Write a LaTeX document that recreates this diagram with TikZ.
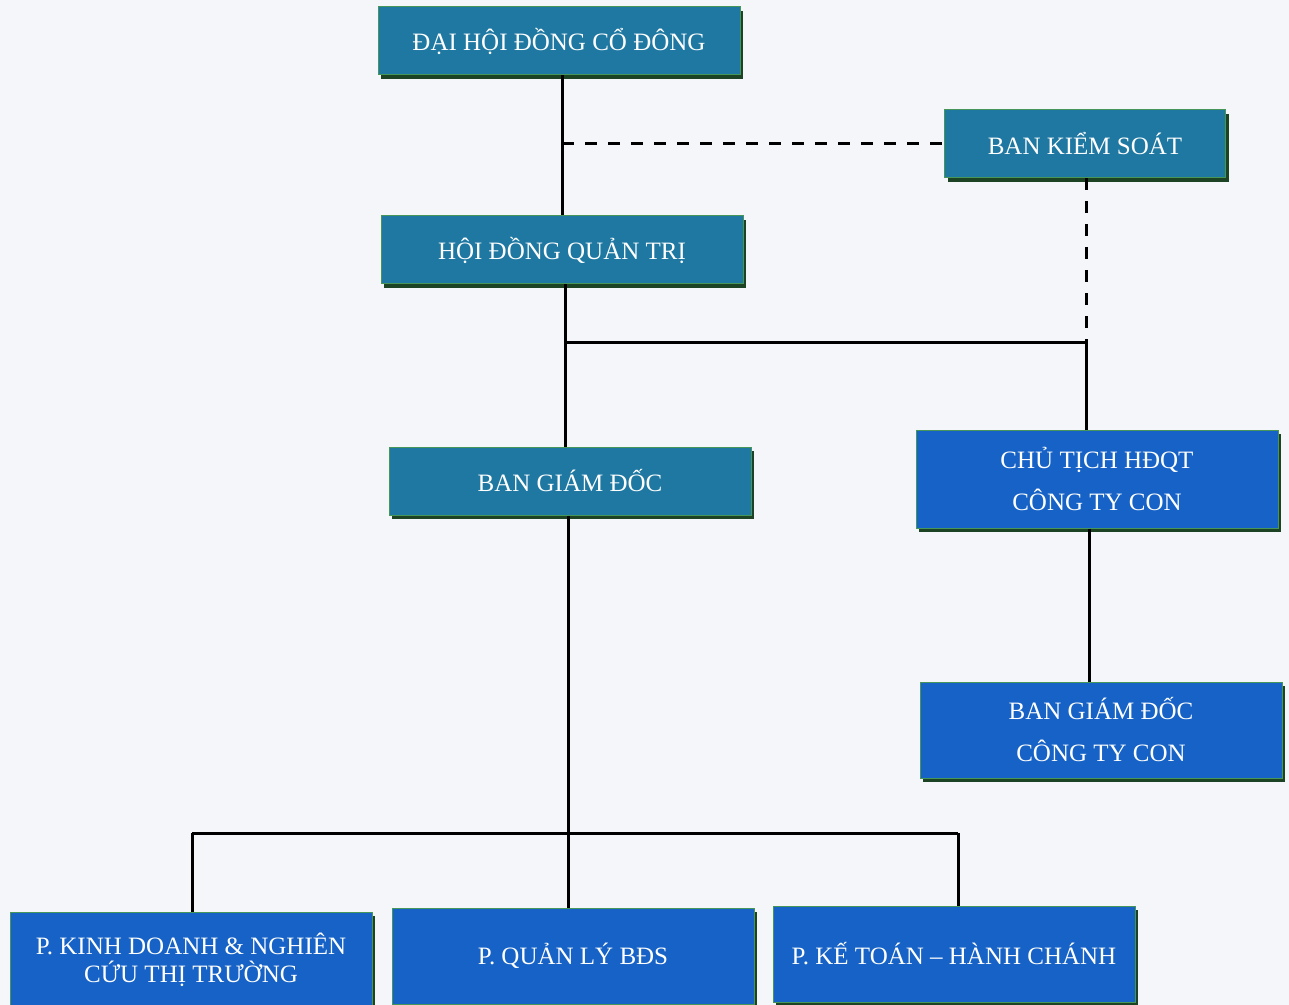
\documentclass[tikz,border=0pt]{standalone}
\usepackage{fontspec}
\setmainfont{Liberation Serif}
\usetikzlibrary{shadows}
\definecolor{paper}{RGB}{244,246,249}
\definecolor{tealbox}{RGB}{30,120,162}
\definecolor{bluebox}{RGB}{22,98,198}
\definecolor{edgegreen}{RGB}{70,150,90}
\definecolor{shadowgreen}{RGB}{28,68,36}

\begin{document}
\begin{tikzpicture}[
  x=0.5pt, y=-0.5pt,
  box/.style={draw=edgegreen, line width=0.5pt, text=white, font=\fontsize{12.5}{14}\selectfont,
    align=center, minimum width=181pt, minimum height=34pt, inner sep=2pt,
    drop shadow={shadow xshift=1.5pt, shadow yshift=-1.8pt, fill=shadowgreen, opacity=1}},
  upper/.style={box, fill=tealbox},
  lower/.style={box, fill=bluebox},
  link/.style={line width=1.5pt, black},
  watch/.style={line width=1.5pt, black, dash pattern=on 6pt off 5.5pt},
]
  \fill[paper] (0,0) rectangle (1289,1005);
  \useasboundingbox (0,0) rectangle (1289,1005);

  % board level
  \node[upper] (dhcd) at (559,41) {ĐẠI HỘI ĐỒNG CỔ ĐÔNG};
  \node[upper, minimum width=140.5pt] (bks) at (1085,144) {BAN KIỂM SOÁT};
  \node[upper] (hdqt) at (562,250) {HỘI ĐỒNG QUẢN TRỊ};
  \node[upper] (bgd) at (570,481) {BAN GIÁM ĐỐC};

  % subsidiary
  \node[lower, minimum height=49pt] (ctct) at (1097,479) {CHỦ TỊCH HĐQT\\[7pt]CÔNG TY CON};
  \node[lower, minimum height=48pt] (bgdct) at (1101,730) {BAN GIÁM ĐỐC\\[7pt]CÔNG TY CON};

  % departments
  \node[lower, minimum height=48pt] (pkd) at (191,960) {P. KINH DOANH \& NGHIÊN\\[0pt]CỨU THỊ TRƯỜNG};
  \node[lower, minimum height=48pt] (pql) at (573,956) {P. QUẢN LÝ BĐS};
  \node[lower, minimum height=48pt] (pkt) at (954,954) {P. KẾ TOÁN – HÀNH CHÁNH};

  \coordinate (jbks) at (562,144);
  \coordinate (jsub) at (565,343);
  \coordinate (jsubr) at (1086,343);
  \coordinate (jdep) at (568,833);
  \coordinate (jdepl) at (192,833);
  \coordinate (jdepr) at (958,833);

  \draw[link] (dhcd.south -| jbks) -- (hdqt.north -| jbks);
  \draw[watch] (jbks) -- (bks.west);
  \draw[watch] (bks.south -| jsubr) -- (jsubr);
  \draw[link] (hdqt.south -| jsub) -- (bgd.north -| jsub);
  \draw[link] (jsub) -- (jsubr) -- (ctct.north -| jsubr);
  \draw[link] (ctct.south -| 1089,0) -- (bgdct.north -| 1089,0);
  \draw[link] (bgd.south -| jdep) -- (pql.north -| jdep);
  \draw[link] (jdepl) -- (jdepr);
  \draw[link] (jdepl) -- (pkd.north -| jdepl);
  \draw[link] (jdepr) -- (pkt.north -| jdepr);
\end{tikzpicture}
\end{document}
